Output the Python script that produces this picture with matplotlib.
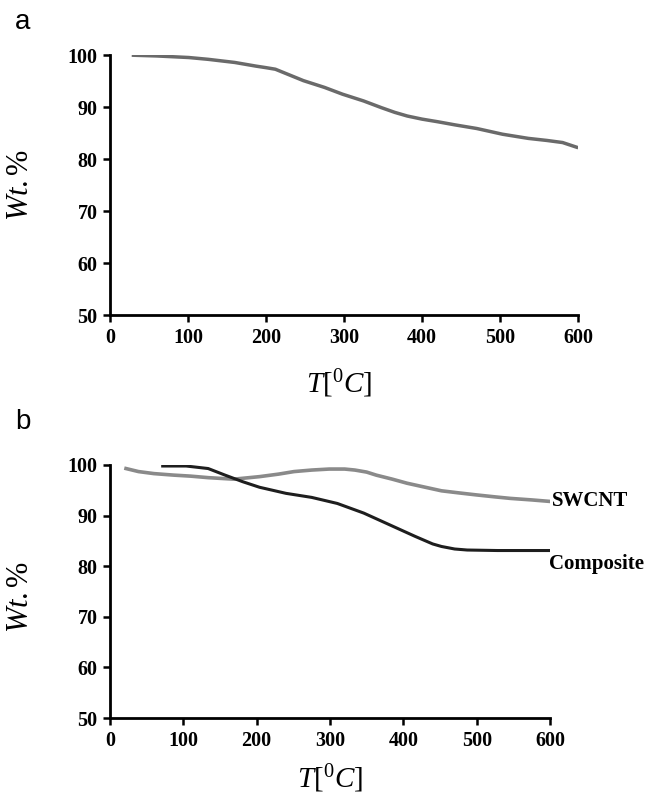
import matplotlib
matplotlib.use("Agg")
import matplotlib.pyplot as plt

plt.rcParams['mathtext.fontset'] = 'custom'
plt.rcParams['mathtext.it'] = 'Liberation Serif:italic'
plt.rcParams['mathtext.rm'] = 'Liberation Serif'
plt.rcParams['mathtext.bf'] = 'Liberation Serif:bold'

# panel a : TGA curve of the sample
temp_a = [28, 60, 101, 126, 160, 187, 200, 212, 230, 248, 275, 298, 325, 348, 365, 381,
          400, 420, 442, 470, 503, 536, 560, 580, 600]
wt_a = [100.0, 99.85, 99.55, 99.2, 98.6, 97.9, 97.6, 97.3, 96.2, 95.1, 93.8, 92.5, 91.2,
        89.9, 89.0, 88.3, 87.7, 87.2, 86.6, 85.9, 84.8, 84.0, 83.6, 83.2, 82.2]

# panel b : SWCNT and composite
temp_swcnt = [22, 39, 60, 87, 110, 134, 169, 204, 230, 251, 275, 299, 320, 334, 350, 363,
              385, 405, 430, 452, 475, 499, 525, 546, 575, 600]
wt_swcnt = [99.3, 98.7, 98.3, 98.0, 97.8, 97.5, 97.2, 97.7, 98.2, 98.7, 99.0, 99.2, 99.2,
            99.0, 98.6, 98.0, 97.2, 96.4, 95.6, 94.9, 94.5, 94.1, 93.7, 93.4, 93.1, 92.8]

temp_comp = [72, 104, 134, 157, 181, 204, 240, 275, 310, 346, 381, 416, 440, 452, 470,
             487, 528, 560, 600]
wt_comp = [99.8, 99.8, 99.3, 98.0, 96.7, 95.6, 94.4, 93.6, 92.4, 90.5, 88.2, 85.9, 84.4,
           83.9, 83.4, 83.2, 83.1, 83.1, 83.1]

x_ticks = [0, 100, 200, 300, 400, 500, 600]
y_ticks = [50, 60, 70, 80, 90, 100]

fig = plt.figure(figsize=(6.7, 8.02), dpi=100)
ax_a = fig.add_axes([0.164, 0.607, 0.699, 0.3242])
ax_b = fig.add_axes([0.164, 0.1047, 0.657, 0.3155])


def style_axis(ax):
    ax.set_xlim(0, 600)
    ax.set_ylim(50, 100)
    ax.set_xticks(x_ticks)
    ax.set_yticks(y_ticks)
    ax.spines['top'].set_visible(False)
    ax.spines['right'].set_visible(False)
    for s in ['left', 'bottom']:
        ax.spines[s].set_linewidth(2.0)
    ax.tick_params(direction='out', length=5, width=1.8, pad=4)
    for lab in ax.get_xticklabels() + ax.get_yticklabels():
        lab.set_fontfamily('Liberation Serif')
        lab.set_fontweight('bold')
        lab.set_fontsize(14.5)
    ax.set_xlabel(r'$T[^{\mathrm{0}}C]$', fontsize=21)
    ax.set_ylabel(r'$Wt.\%$', fontsize=22)


ax_a.plot(temp_a, wt_a, color='#6a6a6a', lw=2.5, solid_capstyle='butt')
style_axis(ax_a)
ax_a.xaxis.set_label_coords(0.49, -0.2)
ax_a.yaxis.set_label_coords(-0.162, 0.5)

ax_b.plot(temp_swcnt, wt_swcnt, color='#8a8a8a', lw=2.6)
ax_b.plot(temp_comp, wt_comp, color='#1e1e1e', lw=2.2)
style_axis(ax_b)
ax_b.xaxis.set_label_coords(0.5, -0.175)
ax_b.yaxis.set_label_coords(-0.172, 0.478)

ax_b.text(602, wt_swcnt[-1], 'SWCNT', fontsize=15, fontweight='bold',
          family='Liberation Serif', va='center', ha='left', clip_on=False)
ax_b.text(598, wt_comp[-1] - 2.6, 'Composite', fontsize=15, fontweight='bold',
          family='Liberation Serif', va='center', ha='left', clip_on=False)

fig.text(0.022, 0.972, 'a', fontsize=20, family='Liberation Sans', va='center')
fig.text(0.022, 0.474, 'b', fontsize=20, family='Liberation Sans', va='center')

fig.savefig('out.png', dpi=100)
